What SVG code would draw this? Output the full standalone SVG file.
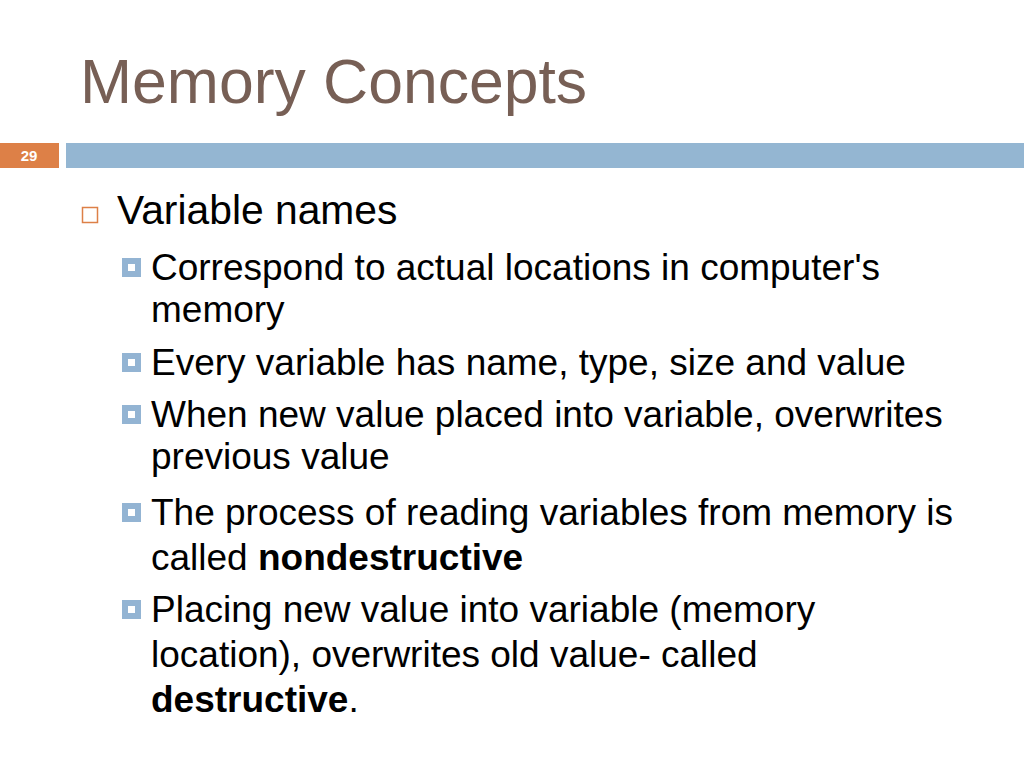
<svg xmlns="http://www.w3.org/2000/svg" width="1024" height="768" viewBox="0 0 1024 768">
<style>
.t{font-family:"Liberation Sans",Arial,sans-serif;fill:#000}
.l1{font-size:40.8px}
.l2{font-size:37px}
.b{font-weight:bold}
</style>
<defs>
<g id="sb"><rect x="0" y="0" width="19" height="19" fill="#93B4D3"/><rect x="6" y="6" width="7" height="7" fill="#fff"/></g>
</defs>
<rect width="1024" height="768" fill="#fff"/>
<g id="title"><text x="80" y="103" font-family="Liberation Sans, Arial, sans-serif" font-size="62.5" fill="#775F55">Memory Concepts</text></g>
<g id="header-bar">
<rect x="0" y="143" width="59" height="25" fill="#DD8047"/>
<text x="29" y="160.5" text-anchor="middle" font-family="Liberation Sans, Arial, sans-serif" font-size="15" font-weight="bold" fill="#fff">29</text>
<rect x="66" y="143" width="958" height="25" fill="#94B6D2"/>
</g>
<g id="body">
<rect x="82.5" y="207.5" width="15" height="15" fill="none" stroke="#DD8047" stroke-width="1.5"/>
<text class="t l1" x="117" y="224">Variable names</text>
<use href="#sb" x="122" y="258"/>
<text class="t l2" x="151" y="280">Correspond to actual locations in computer's</text>
<text class="t l2" x="151" y="322">memory</text>
<use href="#sb" x="122" y="353"/>
<text class="t l2" x="151" y="375">Every variable has name, type, size and value</text>
<use href="#sb" x="122" y="405"/>
<text class="t l2" x="151" y="427">When new value placed into variable, overwrites</text>
<text class="t l2" x="151" y="469">previous value</text>
<use href="#sb" x="122" y="503"/>
<text class="t l2" x="151" y="525">The process of reading variables from memory is</text>
<text class="t l2" x="151" y="570">called <tspan class="b">nondestructive</tspan></text>
<use href="#sb" x="122" y="600"/>
<text class="t l2" x="151" y="622">Placing new value into variable (memory</text>
<text class="t l2" x="151" y="667">location), overwrites old value- called</text>
<text class="t l2" x="151" y="712"><tspan class="b">destructive</tspan>.</text>
</g>
</svg>
